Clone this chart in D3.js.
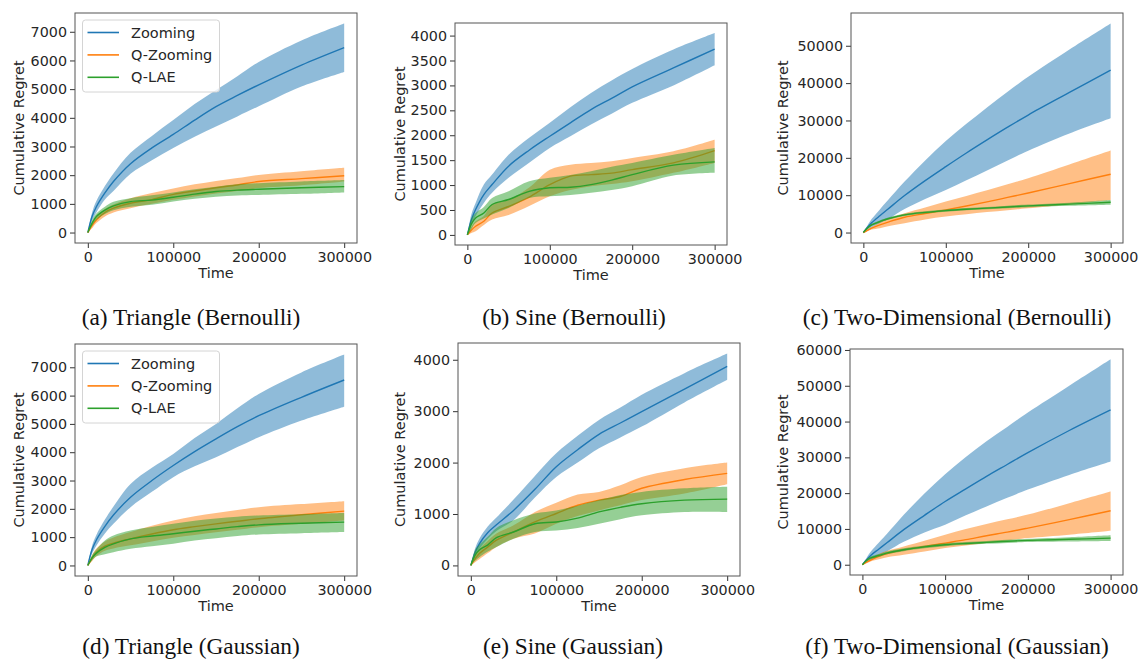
<!DOCTYPE html>
<html>
<head>
<meta charset="utf-8">
<script src="https://cdn.jsdelivr.net/npm/d3@7"></script>
<style>
  body { margin: 0; background: #fff; }
  svg { display: block; }
</style>
</head>
<body>
<svg id="chart" width="1139" height="660"></svg>
<script>
// time grid shared by every panel
const timeSteps = [0, 5000, 10000, 20000, 30000, 50000, 75000, 100000, 125000, 150000, 175000, 200000, 250000, 300000];
const seriesNames = ['Zooming', 'Q-Zooming', 'Q-LAE'];
const xTicks = [0, 100000, 200000, 300000];

// (a) Triangle (Bernoulli)
const a_zoom_mean = [0, 560, 900, 1380, 1780, 2400, 2950, 3420, 3920, 4390, 4780, 5150, 5840, 6450];
const a_zoom_lo   = [0, 420, 700, 1150, 1450, 2050, 2520, 2950, 3340, 3700, 4050, 4400, 5090, 5600];
const a_zoom_hi   = [0, 700, 1100, 1620, 2060, 2780, 3370, 3920, 4480, 4970, 5450, 5950, 6700, 7290];
const a_qzoom_mean = [0, 250, 440, 700, 850, 1020, 1150, 1330, 1450, 1560, 1660, 1780, 1880, 1980];
const a_qzoom_lo   = [0, 150, 330, 560, 700, 850, 1000, 1140, 1260, 1360, 1450, 1550, 1650, 1780];
const a_qzoom_hi   = [0, 350, 540, 820, 980, 1200, 1380, 1540, 1680, 1800, 1900, 2010, 2140, 2260];
const a_qlae_mean = [0, 330, 560, 780, 930, 1080, 1130, 1230, 1340, 1430, 1480, 1510, 1560, 1600];
const a_qlae_lo   = [0, 250, 450, 650, 780, 900, 970, 1080, 1180, 1250, 1290, 1310, 1350, 1400];
const a_qlae_hi   = [0, 420, 660, 900, 1070, 1200, 1300, 1400, 1510, 1600, 1680, 1720, 1780, 1830];
const a_yTicks = [0, 1000, 2000, 3000, 4000, 5000, 6000, 7000];

// (b) Sine (Bernoulli)
const b_zoom_mean = [0, 310, 510, 810, 1010, 1380, 1700, 1980, 2250, 2515, 2740, 2970, 3350, 3730];
const b_zoom_lo   = [0, 200, 375, 640, 845, 1145, 1450, 1745, 1980, 2215, 2430, 2650, 3000, 3405];
const b_zoom_hi   = [0, 420, 640, 1010, 1210, 1610, 1950, 2250, 2560, 2850, 3100, 3330, 3720, 4050];
const b_qzoom_mean = [0, 100, 175, 275, 440, 570, 760, 1010, 1180, 1210, 1240, 1310, 1445, 1690];
const b_qzoom_lo   = [0, 40, 75, 200, 310, 400, 580, 775, 900, 975, 1020, 1075, 1245, 1445];
const b_qzoom_hi   = [0, 170, 275, 380, 610, 700, 950, 1310, 1410, 1445, 1480, 1545, 1680, 1910];
const b_qlae_mean = [0, 220, 340, 440, 610, 710, 875, 945, 955, 1010, 1100, 1210, 1400, 1465];
const b_qlae_lo   = [0, 120, 240, 330, 410, 540, 740, 775, 800, 845, 900, 975, 1190, 1245];
const b_qlae_hi   = [0, 330, 440, 560, 740, 875, 1075, 1145, 1200, 1280, 1370, 1445, 1610, 1745];
const b_yTicks = [0, 500, 1000, 1500, 2000, 2500, 3000, 3500, 4000];

// (c) Two-Dimensional (Bernoulli)
const c_zoom_mean = [0, 1400, 2600, 4500, 6300, 9900, 13900, 17650, 21300, 24800, 28200, 31460, 37500, 43490];
const c_zoom_lo   = [0, 700, 1400, 2500, 3600, 6300, 9000, 11410, 14000, 16600, 19300, 21900, 26500, 30570];
const c_zoom_hi   = [0, 1900, 3600, 6200, 8700, 13640, 19300, 24500, 29100, 33500, 37700, 41700, 49000, 55970];
const c_qzoom_mean = [0, 600, 1160, 2050, 2800, 4100, 5100, 6060, 7100, 8200, 9400, 10600, 13100, 15600];
const c_qzoom_lo   = [0, 400, 800, 1160, 1700, 2500, 3500, 4280, 4900, 5500, 6000, 6510, 7600, 8730];
const c_qzoom_hi   = [0, 800, 1500, 2700, 3600, 5170, 6700, 8290, 9800, 11300, 12900, 14530, 18200, 21930];
const c_qlae_mean = [0, 1200, 2050, 2940, 3700, 4720, 5400, 5880, 6250, 6550, 6850, 7130, 7600, 8110];
const c_qlae_lo   = [0, 1000, 1800, 2650, 3400, 4420, 5100, 5580, 5950, 6250, 6500, 6780, 7150, 7450];
const c_qlae_hi   = [0, 1400, 2300, 3230, 4000, 5020, 5700, 6180, 6550, 6850, 7200, 7480, 8000, 8700];
const c_yTicks = [0, 10000, 20000, 30000, 40000, 50000];

// (d) Triangle (Gaussian)
const d_zoom_mean = [0, 560, 900, 1380, 1780, 2410, 3000, 3530, 4020, 4470, 4900, 5290, 5940, 6550];
const d_zoom_lo   = [0, 420, 700, 1130, 1470, 2060, 2600, 3120, 3500, 3820, 4180, 4530, 5120, 5610];
const d_zoom_hi   = [0, 700, 1080, 1620, 2080, 2880, 3450, 3940, 4500, 5000, 5550, 6060, 6820, 7450];
const d_qzoom_mean = [0, 260, 470, 680, 790, 940, 1110, 1260, 1370, 1470, 1560, 1650, 1790, 1920];
const d_qzoom_lo   = [0, 150, 330, 520, 600, 710, 850, 980, 1080, 1170, 1260, 1350, 1470, 1590];
const d_qzoom_hi   = [0, 360, 600, 850, 990, 1180, 1400, 1590, 1740, 1850, 1960, 2060, 2170, 2270];
const d_qlae_mean = [0, 270, 435, 640, 765, 940, 1040, 1120, 1210, 1290, 1370, 1435, 1490, 1530];
const d_qlae_lo   = [0, 180, 320, 400, 470, 590, 680, 765, 880, 960, 1040, 1095, 1140, 1180];
const d_qlae_hi   = [0, 360, 560, 880, 1060, 1235, 1360, 1470, 1580, 1660, 1720, 1765, 1810, 1850];
const d_yTicks = [0, 1000, 2000, 3000, 4000, 5000, 6000, 7000];

// (e) Sine (Gaussian)
const e_zoom_mean = [0, 250, 420, 640, 790, 1070, 1480, 1920, 2250, 2550, 2770, 2990, 3430, 3870];
const e_zoom_lo   = [0, 170, 320, 520, 670, 880, 1320, 1720, 2000, 2280, 2490, 2700, 3170, 3610];
const e_zoom_hi   = [0, 330, 520, 760, 930, 1280, 1740, 2180, 2520, 2830, 3070, 3320, 3740, 4120];
const e_qzoom_mean = [0, 130, 230, 360, 490, 650, 845, 1010, 1170, 1270, 1340, 1500, 1670, 1790];
const e_qzoom_lo   = [0, 60, 120, 240, 360, 520, 620, 810, 960, 1070, 1170, 1270, 1400, 1580];
const e_qzoom_hi   = [0, 200, 320, 480, 620, 780, 1040, 1220, 1380, 1430, 1560, 1720, 1890, 2000];
const e_qlae_mean = [0, 200, 300, 400, 540, 650, 810, 845, 920, 1040, 1130, 1200, 1270, 1290];
const e_qlae_lo   = [0, 90, 160, 270, 360, 520, 650, 680, 730, 810, 900, 975, 1040, 1040];
const e_qlae_hi   = [0, 300, 400, 560, 730, 880, 1010, 1070, 1160, 1270, 1370, 1430, 1500, 1530];
const e_yTicks = [0, 1000, 2000, 3000, 4000];

// (f) Two-Dimensional (Gaussian)
const f_zoom_mean = [0, 1400, 2600, 4400, 6200, 9800, 13800, 17670, 21200, 24700, 28000, 31300, 37500, 43260];
const f_zoom_lo   = [0, 700, 1300, 2700, 3800, 6400, 9000, 11160, 13800, 16300, 18700, 21000, 25100, 28840];
const f_zoom_hi   = [0, 1900, 3600, 6200, 8700, 13950, 19900, 25300, 30100, 34500, 38500, 42500, 50000, 57400];
const f_qzoom_mean = [0, 700, 1300, 2330, 3100, 4190, 5100, 6050, 7000, 8100, 9100, 10230, 12600, 15070];
const f_qzoom_lo   = [0, 400, 900, 1500, 2100, 2790, 3700, 4650, 5400, 6100, 6800, 7440, 8400, 9490];
const f_qzoom_hi   = [0, 900, 1700, 3000, 3900, 5120, 6700, 8370, 10000, 11400, 12700, 14000, 17200, 20470];
const f_qlae_mean = [0, 1200, 1900, 2600, 3300, 4190, 5000, 5580, 5950, 6250, 6550, 6790, 7100, 7440];
const f_qlae_lo   = [0, 900, 1500, 2200, 2900, 3790, 4600, 5180, 5550, 5850, 6100, 6340, 6500, 6640];
const f_qlae_hi   = [0, 1500, 2300, 3000, 3700, 4590, 5400, 5980, 6350, 6650, 7000, 7240, 7700, 8240];
const f_yTicks = [0, 10000, 20000, 30000, 40000, 50000, 60000];

const captions = ['(a) Triangle (Bernoulli)', '(b) Sine (Bernoulli)', '(c) Two-Dimensional (Bernoulli)',
                  '(d) Triangle (Gaussian)', '(e) Sine (Gaussian)', '(f) Two-Dimensional (Gaussian)'];

const colors = ['#1f77b4', '#ff7f0e', '#2ca02c'];
const tickFont = 'DejaVu Sans, sans-serif';

// axes boxes in page pixels: [left, top, right, bottom], caption centre + baseline
const panels = [
    { box: [75, 13, 357, 243],   cap: [191, 325], legend: true,
      series: [[a_zoom_mean, a_zoom_lo, a_zoom_hi], [a_qzoom_mean, a_qzoom_lo, a_qzoom_hi], [a_qlae_mean, a_qlae_lo, a_qlae_hi]], yTicks: a_yTicks },
    { box: [455, 23, 727, 245],  cap: [574, 325], legend: false,
      series: [[b_zoom_mean, b_zoom_lo, b_zoom_hi], [b_qzoom_mean, b_qzoom_lo, b_qzoom_hi], [b_qlae_mean, b_qlae_lo, b_qlae_hi]], yTicks: b_yTicks },
    { box: [851, 13, 1123, 243], cap: [957, 325], legend: false,
      series: [[c_zoom_mean, c_zoom_lo, c_zoom_hi], [c_qzoom_mean, c_qzoom_lo, c_qzoom_hi], [c_qlae_mean, c_qlae_lo, c_qlae_hi]], yTicks: c_yTicks },
    { box: [75, 344, 357, 576],  cap: [191, 654], legend: true,
      series: [[d_zoom_mean, d_zoom_lo, d_zoom_hi], [d_qzoom_mean, d_qzoom_lo, d_qzoom_hi], [d_qlae_mean, d_qlae_lo, d_qlae_hi]], yTicks: d_yTicks },
    { box: [458, 343, 740, 576], cap: [573, 654], legend: false,
      series: [[e_zoom_mean, e_zoom_lo, e_zoom_hi], [e_qzoom_mean, e_qzoom_lo, e_qzoom_hi], [e_qlae_mean, e_qlae_lo, e_qlae_hi]], yTicks: e_yTicks },
    { box: [850, 349, 1123, 575], cap: [957, 654], legend: false,
      series: [[f_zoom_mean, f_zoom_lo, f_zoom_hi], [f_qzoom_mean, f_qzoom_lo, f_qzoom_hi], [f_qlae_mean, f_qlae_lo, f_qlae_hi]], yTicks: f_yTicks },
];

const svg = d3.select('#chart');
const smooth = d3.curveCatmullRom.alpha(0.5);

panels.forEach((p, i) => {
    const [x0, y0, x1, y1] = p.box;
    const g = svg.append('g');

    // matplotlib style 5% margins
    const xScale = d3.scaleLinear().domain([-15000, 315000]).range([x0, x1]);
    const yMax = d3.max(p.series, s => d3.max(s[2]));
    const yMin = 0;
    const pad = (yMax - yMin) * 0.05;
    const yScale = d3.scaleLinear().domain([yMin - pad, yMax + pad]).range([y1, y0]);

    const clipId = 'clip' + i;
    svg.append('clipPath').attr('id', clipId)
        .append('rect').attr('x', x0).attr('y', y0).attr('width', x1 - x0).attr('height', y1 - y0);

    const plot = g.append('g').attr('clip-path', `url(#${clipId})`);

    const line = d3.line()
        .x((d, k) => xScale(timeSteps[k]))
        .y(d => yScale(d))
        .curve(smooth);

    p.series.forEach((s, j) => {
        const [mean, lo, hi] = s;
        const area = d3.area()
            .x((d, k) => xScale(timeSteps[k]))
            .y0((d, k) => yScale(lo[k]))
            .y1((d, k) => yScale(hi[k]))
            .curve(smooth);

        plot.append('path')
            .datum(mean)
            .attr('d', line)
            .attr('fill', 'none')
            .attr('stroke', colors[j])
            .attr('stroke-width', 1.4);

        plot.append('path')
            .datum(mean)
            .attr('d', area)
            .attr('fill', colors[j])
            .attr('fill-opacity', 0.5);
    });

    // axes
    const xAxis = g.append('g')
        .attr('transform', `translate(0, ${y1})`)
        .call(d3.axisBottom(xScale).tickValues(xTicks).tickFormat(d3.format('d')).tickSize(5).tickPadding(4).tickSizeOuter(0));
    const yAxis = g.append('g')
        .attr('transform', `translate(${x0}, 0)`)
        .call(d3.axisLeft(yScale).tickValues(p.yTicks).tickFormat(d3.format('d')).tickSize(5).tickPadding(3).tickSizeOuter(0));

    [xAxis, yAxis].forEach(ax => {
        ax.select('.domain').remove();
        ax.selectAll('.tick line').attr('stroke', '#333').attr('stroke-width', 1);
        ax.selectAll('.tick text')
            .attr('font-family', tickFont)
            .attr('font-size', 14.3)
            .attr('fill', '#262626');
    });

    // frame
    g.append('rect')
        .attr('x', x0).attr('y', y0)
        .attr('width', x1 - x0).attr('height', y1 - y0)
        .attr('fill', 'none')
        .attr('stroke', '#555')
        .attr('stroke-width', 1);

    // axis labels
    g.append('text')
        .attr('x', (x0 + x1) / 2)
        .attr('y', y1 + 35)
        .attr('text-anchor', 'middle')
        .attr('font-family', tickFont)
        .attr('font-size', 14.5)
        .attr('fill', '#262626')
        .text('Time');

    const labelX = [18.5, 400, 783][i % 3];
    g.append('text')
        .attr('transform', `translate(${labelX}, ${(y0 + y1) / 2}) rotate(-90)`)
        .attr('text-anchor', 'middle')
        .attr('dominant-baseline', 'central')
        .attr('font-family', tickFont)
        .attr('font-size', 14.5)
        .attr('fill', '#262626')
        .text('Cumulative Regret');

    // legend
    if (p.legend) {
        const lg = g.append('g').attr('transform', `translate(${x0 + 7.5}, ${y0 + 7})`);
        lg.append('rect')
            .attr('width', 137).attr('height', 72)
            .attr('rx', 3)
            .attr('fill', 'white').attr('fill-opacity', 0.8)
            .attr('stroke', '#d4d4d4');
        seriesNames.forEach((name, j) => {
            const cy = 12.5 + j * 22.4;
            lg.append('line')
                .attr('x1', 5).attr('x2', 36.5)
                .attr('y1', cy).attr('y2', cy)
                .attr('stroke', colors[j]).attr('stroke-width', 1.6);
            lg.append('text')
                .attr('x', 48.5).attr('y', cy)
                .attr('dominant-baseline', 'central')
                .attr('font-family', tickFont)
                .attr('font-size', 14.5)
                .attr('fill', '#262626')
                .text(name);
        });
    }

    // caption
    svg.append('text')
        .attr('x', p.cap[0]).attr('y', p.cap[1])
        .attr('text-anchor', 'middle')
        .attr('font-family', 'Liberation Serif, Times New Roman, serif')
        .attr('font-size', 23.3)
        .attr('fill', '#111')
        .text(captions[i]);
});
</script>
</body>
</html>
